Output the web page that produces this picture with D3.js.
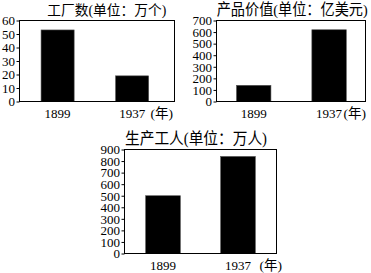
<!DOCTYPE html>
<html>
<head>
<meta charset="utf-8">
<script src="https://cdn.jsdelivr.net/npm/d3@7"></script>
<style>
  html, body { margin: 0; padding: 0; background: #fff; }
  svg { display: block; }
</style>
</head>
<body>
<svg id="chart" width="371" height="273"></svg>
<script>
// ---- data ----
const years = ["1899", "1937"];
const factories = [53, 19];          // 工厂数 (万个)
const productValue = [140, 620];     // 产品价值 (亿美元)
const workers = [500, 840];          // 生产工人 (万人)
const ticksFactories = [0, 10, 20, 30, 40, 50, 60];
const ticksValue = [0, 100, 200, 300, 400, 500, 600, 700];
const ticksWorkers = [0, 100, 200, 300, 400, 500, 600, 700, 800, 900];
const titles = ["工厂数(单位：万个)", "产品价值(单位：亿美元)", "生产工人(单位：万人)"];
const yearUnit = "(年)";

const FONT = "'Liberation Serif', 'Times New Roman', 'Noto Sans CJK SC', serif";

// ---- layout ----
const panels = [
  { values: factories, ticks: ticksFactories, title: titles[0],
    x0: 19.5, x1: 174.5, yTop: 20.5, yBot: 101.5, pi: 0.556, po: 0.318, align: 0.455,
    titleX: 47.3, titleY: 14.5, titleSize: 14, titleLen: 119, unitX: 173 },
  { values: productValue, ticks: ticksValue, title: titles[1],
    x0: 216.5, x1: 365.5, yTop: 20.5, yBot: 101.5, pi: 0.543, po: 0.26, align: 0.51,
    titleX: 216.7, titleY: 15.2, titleSize: 15.5, titleLen: 151, unitX: 366 },
  { values: workers, ticks: ticksWorkers, title: titles[2],
    x0: 124.5, x1: 276.5, yTop: 149.5, yBot: 253.5, pi: 0.537, po: 0.282, align: 0.5,
    titleX: 125, titleY: 144, titleSize: 16, titleLen: 142, unitX: 282 }
];

const svg = d3.select("#chart");

panels.forEach(p => {
  const g = svg.append("g");
  const maxV = p.ticks[p.ticks.length - 1];
  const x = d3.scaleBand().domain(years).range([p.x0, p.x1])
    .paddingInner(p.pi).paddingOuter(p.po).align(p.align);
  const y = d3.scaleLinear().domain([0, maxV]).range([p.yBot, p.yTop]);

  // bars
  g.selectAll("rect.bar").data(years).join("rect")
    .attr("class", "bar")
    .attr("x", d => x(d))
    .attr("width", x.bandwidth())
    .attr("y", (d, i) => y(p.values[i]))
    .attr("height", (d, i) => y(0) - y(p.values[i]))
    .attr("fill", "#000")
    .attr("stroke", "#555")
    .attr("stroke-width", 0.6);

  // frame
  g.append("rect")
    .attr("x", p.x0).attr("y", p.yTop)
    .attr("width", p.x1 - p.x0).attr("height", p.yBot - p.yTop)
    .attr("fill", "none").attr("stroke", "#000").attr("stroke-width", 1);

  // y axis
  const ya = g.append("g").attr("transform", `translate(${p.x0},0)`)
    .call(d3.axisLeft(y).tickValues(p.ticks).tickSize(3).tickPadding(1.5))
    .attr("font-family", FONT).attr("font-size", 13);
  ya.select(".domain").remove();
  ya.selectAll("line").attr("stroke", "#000");
  ya.selectAll("text").attr("fill", "#000").attr("dy", "0.33em");

  // x axis
  const xa = g.append("g").attr("transform", `translate(0,${p.yBot})`)
    .call(d3.axisBottom(x).tickSize(0).tickPadding(7))
    .attr("font-family", FONT).attr("font-size", 13);
  xa.select(".domain").remove();
  xa.selectAll("text").attr("fill", "#000");

  // unit label
  g.append("text")
    .attr("x", p.unitX).attr("y", p.yBot + 16.3)
    .attr("text-anchor", "end")
    .attr("font-family", FONT).attr("font-size", 13.5)
    .attr("fill", "#000")
    .text(yearUnit);

  // title
  g.append("text")
    .attr("x", p.titleX).attr("y", p.titleY)
    .attr("font-family", FONT).attr("font-size", p.titleSize)
    .attr("fill", "#000")
    .attr("textLength", p.titleLen)
    .attr("lengthAdjust", "spacingAndGlyphs")
    .text(p.title);
});
</script>
</body>
</html>
